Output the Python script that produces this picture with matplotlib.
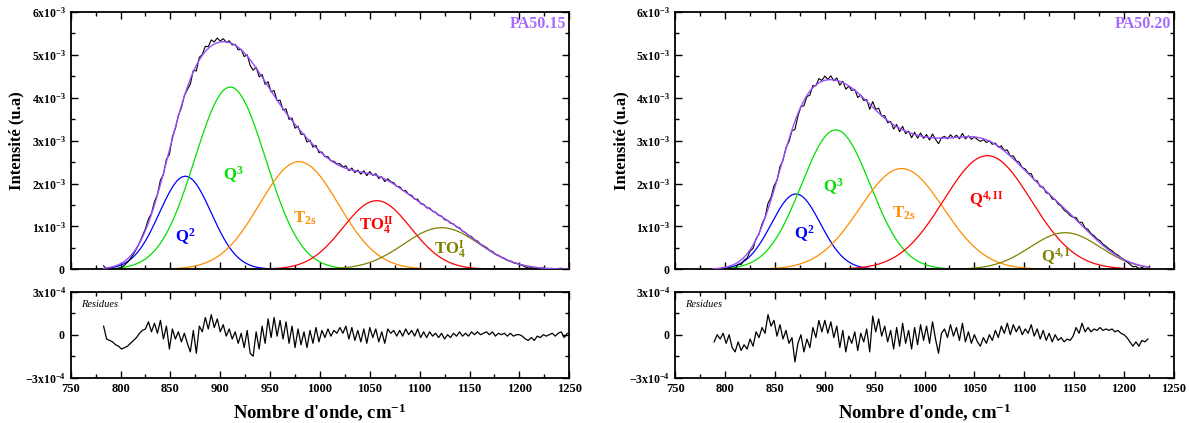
#!/usr/bin/env python3
"""Raman band decomposition of PA50.15 and PA50.20 with fit residues."""

import matplotlib
matplotlib.use('Agg')
import matplotlib.pyplot as plt
from matplotlib.ticker import MultipleLocator, FixedLocator, FuncFormatter
import numpy as np

plt.rcParams['font.family'] = 'Liberation Serif'
plt.rcParams['font.weight'] = 'bold'
plt.rcParams['mathtext.fontset'] = 'custom'
plt.rcParams['mathtext.rm'] = 'Liberation Serif'
plt.rcParams['mathtext.it'] = 'Liberation Serif:italic'
plt.rcParams['mathtext.bf'] = 'Liberation Serif:bold'

# ---- PA50.15 : gaussian bands (centre cm-1, height, sigma cm-1) ----
wn_range_15 = (783, 1250)
centres_15 = [865, 910, 979, 1057, 1122]
heights_15 = [2.17e-3, 4.25e-3, 2.51e-3, 1.60e-3, 0.97e-3]
sigmas_15 = [26, 35.5, 39.5, 34, 38]
names_15 = [r'$\mathbf{Q^2}$', r'$\mathbf{Q^3}$', r'$\mathbf{T_{2s}}$',
            r'$\mathbf{TO_4^{II}}$', r'$\mathbf{TO_4^{I}}$']

# residues (x1e-4), every 3 cm-1 from 783
res_start_15 = 783
res_15 = [
    0.6, -0.3, -0.4, -0.5, -0.7, -0.8, -1.0, -0.9, -0.8, -0.6,
    -0.4, -0.2, 0.1, 0.3, 0.4, 0.9, 0.2, 0.8, 0.1, 1.0,
    -0.3, 0.6, -1.0, 0.4, -0.3, 0.2, -0.5, 0.1, -0.6, -1.2,
    0.3, -1.3, 0.6, 0.2, 1.2, 0.4, 1.4, 0.5, 1.1, 0.2,
    0.7, -0.1, 0.4, -0.3, 0.2, -0.6, 0.1, -0.9, 0.3, -1.3,
    -1.5, 0.2, -1.0, 0.6, -0.6, 1.1, -0.2, 1.2, -0.1, 1.0,
    -0.3, 0.9, -0.6, 0.6, -0.9, 0.4, -0.7, 0.2, -0.9, 0.3,
    -0.6, 0.5, -0.5, 0.3, -0.2, 0.4, -0.1, 0.3, 0.1, 0.5,
    0.1, 0.6, -0.3, 0.5, -0.4, 0.3, -0.5, 0.4, -0.6, 0.5,
    -0.2, 0.4, -0.5, 0.2, -0.6, 0.4, 0.1, 0.3, -0.1, 0.3,
    -0.1, 0.4, 0.0, 0.3, -0.1, 0.4, -0.2, 0.2, -0.2, 0.2,
    -0.1, 0.1, -0.2, 0.1, -0.3, 0.0, -0.2, 0.1, -0.1, 0.2,
    -0.1, 0.1, -0.1, 0.2, 0.0, 0.2, 0.0, 0.1, 0.2, 0.0,
    0.2, -0.1, 0.1, 0.0, 0.1, -0.1, 0.1, -0.1, 0.0, 0.0,
    -0.1, -0.3, -0.4, -0.2, -0.4, -0.1, -0.2, 0.0, -0.1, 0.0,
    0.1, -0.1, 0.1, 0.2, -0.2, 0.1,
]

# ---- PA50.20 ----
wn_range_20 = (788, 1225)
centres_20 = [871, 911, 977, 1063, 1141]
heights_20 = [1.756e-3, 3.25e-3, 2.35e-3, 2.65e-3, 0.854e-3]
sigmas_20 = [24.6, 34.5, 42, 44, 35]
names_20 = [r'$\mathbf{Q^2}$', r'$\mathbf{Q^3}$', r'$\mathbf{T_{2s}}$',
            r'$\mathbf{Q^{4,II}}$', r'$\mathbf{Q^{4,I}}$']

res_start_20 = 789
res_20 = [
    -0.5, 0.0, -0.3, 0.1, -0.6, 0.0, -0.9, -1.2, -0.5, -1.1,
    -0.7, -1.0, -0.3, -0.8, 0.2, -0.2, 0.5, 0.1, 1.4, 0.6,
    1.0, -0.1, 0.7, -0.3, 0.3, -0.6, -0.2, -1.9, -0.6, 0.0,
    -1.2, -0.3, -0.9, 0.5, -0.2, 1.0, 0.2, 1.0, 0.1, 0.9,
    -0.2, 0.6, -0.9, 0.3, -1.2, -0.1, -0.6, 0.2, -1.1, 0.1,
    -0.5, 0.4, -1.2, 1.3, 0.2, 1.1, -0.1, 0.6, -0.5, 0.3,
    -1.0, 0.5, -0.8, 0.8, -0.6, 0.3, -1.0, 0.5, -0.7, 0.7,
    -0.4, 0.6, -0.6, 0.9, -0.3, -1.3, 0.1, 0.4, -0.2, 0.7,
    -0.1, 0.5, -0.4, 0.8, -0.5, 0.2, -0.6, 0.0, -0.5, -0.8,
    -0.2, -0.6, 0.0, -0.4, 0.3, -0.2, 0.6, 0.1, 0.8, 0.0,
    0.7, 0.2, 0.6, 0.0, 0.4, 0.1, 0.7, -0.1, 0.4, -0.3,
    0.3, -0.4, 0.1, -0.5, 0.0, -0.4, -0.2, -0.5, -0.3, -0.4,
    -0.1, 0.5, 0.1, 0.8, 0.2, 0.5, 0.2, 0.4, 0.3, 0.5,
    0.3, 0.4, 0.3, 0.4, 0.2, 0.3, 0.1, 0.0, -0.2, -0.5,
    -0.8, -0.5, -0.8, -0.4, -0.5, -0.3,
]

band_colors = ['#0000ff', '#00e000', '#ff8c00', '#ff0000', '#808000']
fit_color = '#9a4dff'
title_color = '#a66bff'

W, H = 1189, 423


def gauss(x, c, h, s):
    return h * np.exp(-(x - c) ** 2 / (2 * s ** 2))


def style_axis(ax):
    ax.tick_params(which='both', direction='in', top=True, right=True,
                   labelsize=9, width=1)
    ax.tick_params(which='major', length=5)
    ax.tick_params(which='minor', length=3)
    for sp in ax.spines.values():
        sp.set_linewidth(1.3)


def main_fmt(v, pos):
    n = int(round(v * 1e3))
    if n == 0:
        return r'$\mathbf{0}$'
    return r'$\mathbf{%dx10^{-3}}$' % n


def res_fmt(v, pos):
    n = int(round(v * 1e4))
    if n == 0:
        return r'$\mathbf{0}$'
    return r'$\mathbf{%dx10^{-4}}$' % n


def panel(x0, wn_range, centres, heights, sigmas, names, label_pos,
          res_start, res, title):
    ax = fig.add_axes([x0 / W, 1 - 269.3 / H, 498.5 / W, 257.3 / H])
    axr = fig.add_axes([x0 / W, 1 - 377.7 / H, 498.5 / W, 86 / H])

    xs = np.linspace(wn_range[0], wn_range[1], 600)
    fit = np.zeros_like(xs)
    for c, h, s, col in zip(centres, heights, sigmas, band_colors):
        y = gauss(xs, c, h, s)
        fit += y
        ax.plot(xs, y, color=col, lw=0.9, zorder=2)

    # experimental = fit + residue
    wn_res = res_start + 3 * np.arange(len(res))
    res_arr = np.array(res) * 1e-4
    fit_at = sum(gauss(wn_res, c, h, s) for c, h, s in zip(centres, heights, sigmas))
    ax.plot(wn_res, fit_at + res_arr, color='black', lw=0.8, zorder=3)
    ax.plot(xs, fit, color=fit_color, lw=1.0, zorder=4)

    for name, (lx, ly), col in zip(names, label_pos, band_colors):
        ax.text(lx, ly, name, color=col, fontsize=12, ha='center', va='center')
    ax.text(0.995, 0.985, title, transform=ax.transAxes, ha='right', va='top',
            color=title_color, fontsize=11.5, fontweight='bold')

    ax.set_xlim(750, 1250)
    ax.set_ylim(0, 6e-3)
    ax.xaxis.set_major_locator(MultipleLocator(50))
    ax.xaxis.set_minor_locator(MultipleLocator(25))
    ax.yaxis.set_major_locator(MultipleLocator(1e-3))
    ax.yaxis.set_minor_locator(MultipleLocator(5e-4))
    ax.yaxis.set_major_formatter(FuncFormatter(main_fmt))
    ax.set_xticklabels([])
    style_axis(ax)
    ax.tick_params(labelbottom=False, labelsize=8.5)
    ax.set_ylabel('Intensité (u.a)', fontsize=12, fontweight='bold')
    ax.yaxis.set_label_coords(-0.093, 0.5)

    axr.plot(wn_res, res_arr, color='black', lw=0.9)
    axr.set_xlim(750, 1250)
    axr.set_ylim(-3e-4, 3e-4)
    axr.xaxis.set_major_locator(MultipleLocator(50))
    axr.xaxis.set_minor_locator(MultipleLocator(25))
    axr.yaxis.set_major_locator(FixedLocator([-3e-4, 0, 3e-4]))
    axr.yaxis.set_minor_locator(FixedLocator([-1.5e-4, 1.5e-4]))
    axr.yaxis.set_major_formatter(FuncFormatter(res_fmt))
    style_axis(axr)
    axr.tick_params(axis='y', labelsize=8.5)
    axr.text(0.02, 0.9, 'Residues', transform=axr.transAxes, fontsize=7.5,
             fontstyle='italic', fontweight='normal', ha='left', va='top')
    axr.set_xlabel("Nombre d'onde, cm" + r'$^{\mathbf{-1}}$', fontsize=13.5,
                   fontweight='bold')
    axr.xaxis.set_label_coords(0.5, -0.27)


fig = plt.figure(figsize=(W / 100, H / 100), dpi=100)

panel(70.7, wn_range_15, centres_15, heights_15, sigmas_15, names_15,
      [(865, 0.76e-3), (913, 2.2e-3), (985, 1.2e-3), (1057, 1.0e-3), (1130, 0.45e-3)],
      res_start_15, res_15, 'PA50.15')
panel(675.3, wn_range_20, centres_20, heights_20, sigmas_20, names_20,
      [(879, 0.84e-3), (908, 1.93e-3), (979, 1.3e-3), (1062, 1.62e-3), (1132, 0.29e-3)],
      res_start_20, res_20, 'PA50.20')

fig.savefig('out.png', dpi=100, facecolor='white')
plt.close(fig)
